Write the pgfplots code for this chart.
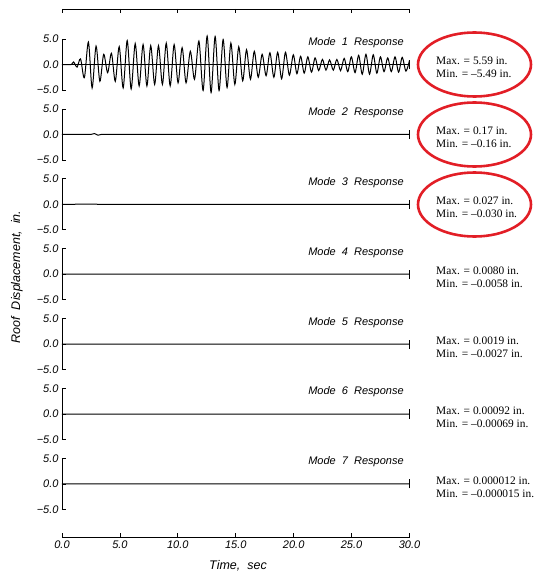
\documentclass[border=0pt]{standalone}
\usepackage{fontspec}
\setmainfont{Liberation Serif}
\setsansfont{Liberation Sans}
\usepackage{pgfplots}
\pgfplotsset{compat=1.18}
\definecolor{ringred}{RGB}{226,30,38}

\newcommand{\tickfont}{\sffamily\itshape\fontsize{11}{12}\selectfont}
\newcommand{\labfont}{\sffamily\itshape\fontsize{12.5}{14}\selectfont}

\pgfplotsset{
  panel/.style={
    scale only axis, width=347.5pt, height=51pt,
    xmin=0, xmax=30, ymin=-5, ymax=5,
    axis x line=none, axis y line*=left,
    ytick={-5,0,5}, yticklabels={−5.0,0.0,5.0},
    tick align=inside, major tick length=4pt,
    tick style={black, line width=0.8pt},
    axis line style={line width=0.9pt},
    ticklabel style={font=\tickfont},
    clip=false, anchor=south west,
  },
  trace/.style={black, line width=1pt, mark=none},
}

% mode 1 roof displacement (in.), peaks and troughs
\newcommand{\modeone}{(0,0) (0.8,0) (1.0,0.5) (1.3,-0.5) (1.6,1.1) (1.93,-2.6)
 (2.28,4.4) (2.6,-4.6) (2.94,3.6) (3.27,-3.3) (3.6,2.0) (3.94,-1.6)
 (4.27,2.2) (4.6,-3.3) (4.94,3.5) (5.28,-4.6) (5.63,4.7) (5.97,-4.8)
 (6.32,4.1) (6.66,-4.2) (7.0,3.9) (7.33,-4.2) (7.66,3.7) (8.0,-3.9)
 (8.33,3.7) (8.67,-3.9) (9.0,4.2) (9.34,-4.2) (9.68,3.9) (10.02,-3.6)
 (10.37,3.3) (10.71,-3.6) (11.08,2.6) (11.44,-2.9) (11.82,4.6) (12.18,-5.1)
 (12.53,5.59) (12.87,-5.49) (13.22,5.5) (13.56,-5.1) (13.91,4.9) (14.25,-4.5)
 (14.58,4.2) (14.92,-3.9) (15.26,3.5) (15.6,-3.2) (15.93,2.9) (16.27,-2.9)
 (16.6,2.6) (16.94,-2.5) (17.28,2.0) (17.62,-2.2) (17.95,2.3) (18.29,-2.5)
 (18.62,2.4) (18.96,-2.8) (19.29,2.4) (19.63,-2.1) (19.97,1.9) (20.28,-1.8)
 (20.6,1.6) (20.91,-1.7) (21.22,1.5) (21.54,-1.5) (21.85,1.3) (22.16,-1.2)
 (22.48,1.0) (22.79,-1.1) (23.1,0.9) (23.42,-1.1) (23.73,1.0) (24.05,-1.2)
 (24.36,1.2) (24.67,-1.4) (24.98,1.5) (25.3,-1.6) (25.61,1.8) (25.92,-1.9)
 (26.24,2.0) (26.55,-1.9) (26.87,1.9) (27.18,-1.7) (27.49,1.5) (27.8,-1.4)
 (28.12,1.3) (28.43,-1.4) (28.75,1.5) (29.06,-1.5) (29.37,1.4) (29.69,-1.3)
 (30.0,0.8)}

\begin{document}
\begin{tikzpicture}
\useasboundingbox (0,0) rectangle (536pt,-575pt);

% outer frame: time axis top and bottom
\begin{axis}[
  scale only axis, width=347.5pt, height=528pt,
  at={(62pt,-537pt)}, anchor=south west,
  xmin=0, xmax=30, ymin=0, ymax=1,
  axis x line=box, axis y line=none,
  xtick={0,5,...,30}, xticklabels={0.0,5.0,10.0,15.0,20.0,25.0,30.0},
  xtick pos=both, xticklabel pos=bottom,
  tick align=inside, major tick length=4.5pt,
  tick style={black, line width=0.8pt},
  axis line style={line width=0.9pt},
  ticklabel style={font=\tickfont},
]
\end{axis}

% mode 1
\begin{axis}[panel, at={(62pt,-90pt)}]
\addplot[trace, smooth, tension=0.5] coordinates {\modeone};
\addplot[trace] coordinates {(0,0) (30,0)};
\addplot[trace] coordinates {(30,-0.9) (30,0.9)};
\node[anchor=east, font=\tickfont] at (axis cs:29.8,4.3) {Mode~ 1~ Response};
\end{axis}

% mode 2
\begin{axis}[panel, at={(62pt,-159.9pt)}]
\addplot[trace] coordinates {(0,0) (2.5,0) (2.8,0.17) (3.1,-0.16) (3.4,0) (30,0)};
\addplot[trace] coordinates {(30,-0.9) (30,0.9)};
\node[anchor=east, font=\tickfont] at (axis cs:29.8,4.3) {Mode~ 2~ Response};
\end{axis}

% mode 3
\begin{axis}[panel, at={(62pt,-229.8pt)}]
\addplot[trace] coordinates {(0,0) (3.0,0.027) (3.1,-0.030) (30,0)};
\addplot[trace] coordinates {(30,-0.9) (30,0.9)};
\node[anchor=east, font=\tickfont] at (axis cs:29.8,4.3) {Mode~ 3~ Response};
\end{axis}

% mode 4
\begin{axis}[panel, at={(62pt,-299.7pt)}]
\addplot[trace] coordinates {(0,0) (3.0,0.0080) (3.05,-0.0058) (30,0)};
\addplot[trace] coordinates {(30,-0.9) (30,0.9)};
\node[anchor=east, font=\tickfont] at (axis cs:29.8,4.3) {Mode~ 4~ Response};
\end{axis}

% mode 5
\begin{axis}[panel, at={(62pt,-369.6pt)}]
\addplot[trace] coordinates {(0,0) (3.0,0.0019) (3.03,-0.0027) (30,0)};
\addplot[trace] coordinates {(30,-0.9) (30,0.9)};
\node[anchor=east, font=\tickfont] at (axis cs:29.8,4.3) {Mode~ 5~ Response};
\end{axis}

% mode 6
\begin{axis}[panel, at={(62pt,-439.5pt)}]
\addplot[trace] coordinates {(0,0) (3.0,0.00092) (3.02,-0.00069) (30,0)};
\addplot[trace] coordinates {(30,-0.9) (30,0.9)};
\node[anchor=east, font=\tickfont] at (axis cs:29.8,4.3) {Mode~ 6~ Response};
\end{axis}

% mode 7
\begin{axis}[panel, at={(62pt,-509.4pt)}]
\addplot[trace] coordinates {(0,0) (3.0,0.000012) (3.01,-0.000015) (30,0)};
\addplot[trace] coordinates {(30,-0.9) (30,0.9)};
\node[anchor=east, font=\tickfont] at (axis cs:29.8,4.3) {Mode~ 7~ Response};
\end{axis}

% axis titles
\node[rotate=90, font=\labfont] at (17pt,-277pt) {Roof~ Displacement,~ in.};
\node[font=\labfont] at (238pt,-566pt) {Time,~ sec};

% peak values
\begin{scope}[every node/.style={anchor=west, align=left, inner sep=1pt, font=\fontsize{11.4}{13}\selectfont}]
\node at (435pt,-67pt)  {Max. = 5.59 in.\\Min. = –5.49 in.};
\node at (435pt,-137pt) {Max. = 0.17 in.\\Min. = –0.16 in.};
\node at (435pt,-207pt) {Max. = 0.027 in.\\Min. = –0.030 in.};
\node at (435pt,-277pt) {Max. = 0.0080 in.\\Min. = –0.0058 in.};
\node at (435pt,-347pt) {Max. = 0.0019 in.\\Min. = –0.0027 in.};
\node at (435pt,-417pt) {Max. = 0.00092 in.\\Min. = –0.00069 in.};
\node at (435pt,-487pt) {Max. = 0.000012 in.\\Min. = –0.000015 in.};
\end{scope}

% highlighted modes
\begin{scope}[ringred, line width=2.6pt]
\draw (474.5pt,-64.5pt) ellipse [x radius=56.5pt, y radius=32pt];
\draw (474.5pt,-134.5pt) ellipse [x radius=56.5pt, y radius=32pt];
\draw (474.5pt,-204.5pt) ellipse [x radius=56.5pt, y radius=32pt];
\end{scope}
\end{tikzpicture}
\end{document}
